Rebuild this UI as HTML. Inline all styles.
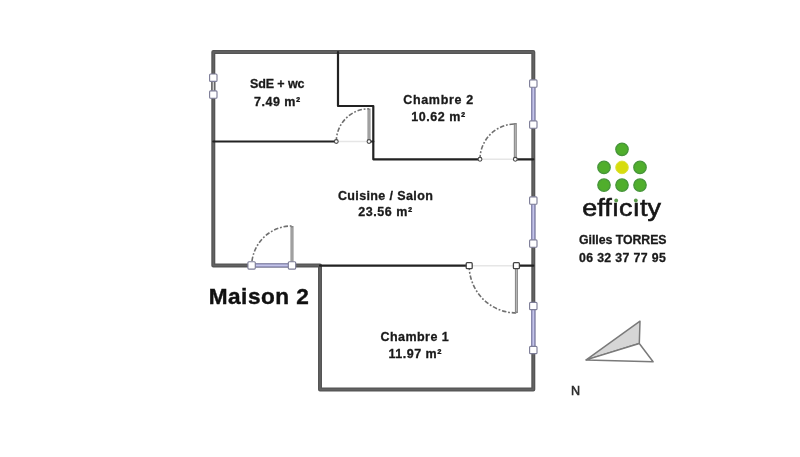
<!DOCTYPE html>
<html><head><meta charset="utf-8">
<style>
html,body{margin:0;padding:0;background:#fff;}
body{width:800px;height:457px;overflow:hidden;position:relative;}
svg{position:absolute;left:0;top:0;will-change:transform;}
text{font-family:"Liberation Sans",sans-serif;}
</style></head>
<body>
<svg width="800" height="457" viewBox="0 0 800 457">
<rect width="800" height="457" fill="#fff"/>

<!-- door thresholds (light) -->
<g stroke="#e6e6e6" stroke-width="1.6" fill="none">
  <line x1="336.3" y1="141.5" x2="369" y2="141.5"/>
  <line x1="480" y1="159.3" x2="515.3" y2="159.3"/>
  <line x1="469.2" y1="265.7" x2="516.4" y2="265.7"/>
</g>

<!-- outer walls -->
<g stroke="#555" stroke-width="4" fill="none" stroke-linejoin="round" stroke-linecap="round">
  <path d="M213.3,265.4 L213.3,52 L533.3,52 L533.3,389.5 L320,389.5 L320,265.4 Z"/>
</g>
<g stroke="#636363" stroke-width="1.4" fill="none" stroke-linejoin="round">
  <path d="M213.3,265.4 L213.3,52 L533.3,52 L533.3,389.5 L320,389.5 L320,265.4 Z"/>
</g>

<!-- interior walls -->
<g stroke="#222" stroke-width="2.2" fill="none" stroke-linejoin="round" stroke-linecap="round">
  <path d="M213.3,141.5 L336.3,141.5"/>
  <path d="M338,52 L338,106 L373.3,106 L373.3,159.3 L480,159.3"/>
  <path d="M369,141.5 L373.3,141.5"/>
  <path d="M515.3,159.3 L533.3,159.3"/>
  <path d="M320,265.7 L469.2,265.7"/>
  <path d="M516.4,265.7 L533.3,265.7"/>
</g>

<!-- door arcs -->
<g stroke="#707070" stroke-width="1.6" fill="none" stroke-dasharray="4.5,1.8,1.8,1.8">
  <path d="M336.3,141.5 A32.7,32.7 0 0 1 369,108.8"/>
  <path d="M480,159.3 A35.3,35.3 0 0 1 515.3,124"/>
  <path d="M252,261 A40,40 0 0 1 292,226"/>
  <path d="M469.2,265.7 A47.2,47.2 0 0 0 516.4,312.9"/>
</g>

<!-- door leaves -->
<g stroke="#858585" stroke-width="3" fill="none">
  <line x1="369" y1="141.5" x2="369" y2="108.5"/>
  <line x1="515.3" y1="159.3" x2="515.3" y2="123"/>
  <line x1="292" y1="265.4" x2="292" y2="226"/>
  <line x1="516.4" y1="265.7" x2="516.4" y2="313"/>
</g>
<g stroke="#c2c2c2" stroke-width="0.9" fill="none">
  <line x1="369" y1="139" x2="369" y2="110"/>
  <line x1="515.3" y1="157" x2="515.3" y2="124.5"/>
  <line x1="292" y1="262" x2="292" y2="227.5"/>
  <line x1="516.4" y1="268" x2="516.4" y2="311.5"/>
</g>

<!-- door circles -->
<g stroke="#4a4a4a" stroke-width="1.1" fill="#fff">
  <circle cx="336.3" cy="141.5" r="1.9"/>
  <circle cx="369" cy="141.5" r="1.9"/>
  <circle cx="480" cy="159.3" r="1.9"/>
  <circle cx="515.3" cy="159.3" r="1.9"/>
</g>
<g stroke="#444" stroke-width="1.3" fill="#fff">
  <rect x="466.2" y="262.7" width="6" height="6" rx="1"/>
  <rect x="513.4" y="262.7" width="6" height="6" rx="1"/>
</g>

<!-- windows -->
<g stroke="#8787b0" stroke-width="4.4" fill="none">
  <line x1="533.3" y1="83.5" x2="533.3" y2="124.5"/>
  <line x1="533.3" y1="200.5" x2="533.3" y2="243.5"/>
  <line x1="533.3" y1="306" x2="533.3" y2="350"/>
  <line x1="251.6" y1="265.4" x2="292" y2="265.4"/>
</g>
<g stroke="#c4c4ea" stroke-width="1.7" fill="none">
  <line x1="533.3" y1="83.5" x2="533.3" y2="124.5"/>
  <line x1="533.3" y1="200.5" x2="533.3" y2="243.5"/>
  <line x1="533.3" y1="306" x2="533.3" y2="350"/>
  <line x1="251.6" y1="265.4" x2="292" y2="265.4"/>
</g>
<g stroke="#666" stroke-width="4" fill="none">
  <line x1="213.3" y1="77.7" x2="213.3" y2="94.5"/>
</g>
<g stroke="#ddd" stroke-width="1.2" fill="none">
  <line x1="213.3" y1="77.7" x2="213.3" y2="94.5"/>
</g>
<g stroke="#7e7e98" stroke-width="1.15" fill="#fff">
  <rect x="209.60" y="74.00" width="7.4" height="7.4" rx="1"/>
  <rect x="209.60" y="90.80" width="7.4" height="7.4" rx="1"/>
  <rect x="529.60" y="79.80" width="7.4" height="7.4" rx="1"/>
  <rect x="529.60" y="120.80" width="7.4" height="7.4" rx="1"/>
  <rect x="529.60" y="196.80" width="7.4" height="7.4" rx="1"/>
  <rect x="529.60" y="239.80" width="7.4" height="7.4" rx="1"/>
  <rect x="529.60" y="302.30" width="7.4" height="7.4" rx="1"/>
  <rect x="529.60" y="346.30" width="7.4" height="7.4" rx="1"/>
  <rect x="247.90" y="261.70" width="7.4" height="7.4" rx="1"/>
  <rect x="288.30" y="261.70" width="7.4" height="7.4" rx="1"/>
</g>

<!-- room labels -->
<g font-weight="bold" font-size="12.5" fill="#1a1a1a" stroke="#1a1a1a" stroke-width="0.3">
  <text x="249.9" y="88.2" letter-spacing="-0.09">SdE + wc</text>
  <text x="254.1" y="106.1" letter-spacing="0.49">7.49 m²</text>
  <text x="403.3" y="104.2" letter-spacing="0.65">Chambre 2</text>
  <text x="411.15" y="121.4" letter-spacing="0.57">10.62 m²</text>
  <text x="337.9" y="199.6" letter-spacing="0.38">Cuisine / Salon</text>
  <text x="358.3" y="216" letter-spacing="0.54">23.56 m²</text>
  <text x="380.6" y="340.8" letter-spacing="0.43">Chambre 1</text>
  <text x="388.45" y="357.8" letter-spacing="0.52">11.97 m²</text>
</g>
<text x="208.7" y="304.3" font-weight="bold" font-size="22.6" letter-spacing="0.51" fill="#111" stroke="#111" stroke-width="0.4">Maison 2</text>

<!-- logo -->
<g fill="#50ae2c" stroke="#46953a" stroke-width="1.3">
  <circle cx="622" cy="149.3" r="6.2"/>
  <circle cx="604" cy="167.4" r="6.2"/>
  <circle cx="640" cy="167.4" r="6.2"/>
  <circle cx="604" cy="185.1" r="6.2"/>
  <circle cx="622" cy="185.1" r="6.2"/>
  <circle cx="640" cy="185.1" r="6.2"/>
</g>
<circle cx="622" cy="167.4" r="6.3" fill="#d7dc0e" stroke="#dde23a" stroke-width="1"/>
<g transform="translate(583.5,216.2) scale(1.095,1)">
<text x="-1.2" y="0" font-size="24.6" fill="#161616" stroke="#161616" stroke-width="0.6">effıcıty</text>
</g>
<g fill="#5a9a4a">
  <circle cx="616.2" cy="200.5" r="1.9"/>
  <circle cx="635.8" cy="200.5" r="1.9"/>
</g>

<g font-weight="bold" font-size="12.3" fill="#1a1a1a" stroke="#1a1a1a" stroke-width="0.3">
  <text x="579" y="244.2" letter-spacing="-0.03">Gilles TORRES</text>
  <text x="579" y="261.5" letter-spacing="0.36">06 32 37 77 95</text>
</g>

<!-- north arrow -->
<g stroke="#7a7a7a" stroke-width="1.5" stroke-linejoin="round">
  <path d="M586.2,359.9 L640,321.2 L639.3,343.5 Z" fill="#d6d6d6"/>
  <path d="M586.2,359.9 L639.3,343.5 L653.1,361.8 Z" fill="#fff"/>
</g>
<text x="570.9" y="395" font-size="12.6" fill="#2a2a2a" stroke="#2a2a2a" stroke-width="0.55">N</text>
</svg>
</body></html>
